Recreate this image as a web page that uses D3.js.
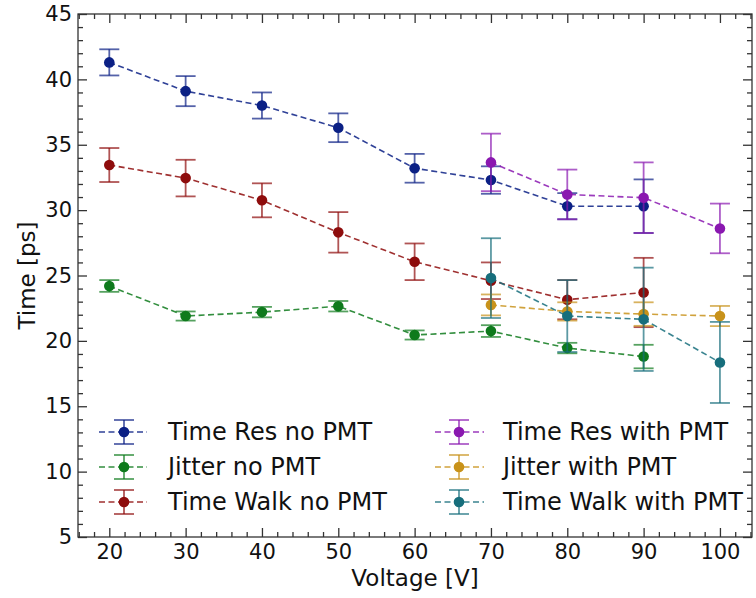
<!DOCTYPE html>
<html>
<head>
<meta charset="utf-8">
<script src="https://cdn.jsdelivr.net/npm/d3@7"></script>
<style>
  body { margin: 0; background: #fff; }
  text { font-family: "DejaVu Sans", sans-serif; fill: #111; }
</style>
</head>
<body>
<div class="canvas"></div>
<script>
// data
const voltsNoPmt = [20, 30, 40, 50, 60, 70, 80, 90];
const voltsPmt = [70, 80, 90, 100];

const resNoPmt = [41.3, 39.1, 38.0, 36.3, 33.2, 32.3, 30.3, 30.3];
const resNoPmtErr = [1.0, 1.15, 1.0, 1.1, 1.1, 1.05, 1.0, 2.05];
const jitNoPmt = [24.2, 21.9, 22.2, 22.65, 20.45, 20.75, 19.45, 18.8];
const jitNoPmtErr = [0.45, 0.35, 0.4, 0.4, 0.35, 0.45, 0.4, 0.9];
const walkNoPmt = [33.45, 32.45, 30.75, 28.3, 26.05, 24.6, 23.15, 23.7];
const walkNoPmtErr = [1.3, 1.4, 1.3, 1.55, 1.4, 1.4, 1.5, 2.65];

const resPmt = [33.65, 31.2, 30.95, 28.6];
const resPmtErr = [2.2, 1.9, 2.7, 1.9];
const jitPmt = [22.75, 22.25, 22.05, 21.9];
const jitPmtErr = [0.8, 0.7, 0.9, 0.77];
const walkPmt = [24.8, 21.9, 21.65, 18.35];
const walkPmtErr = [3.05, 2.75, 3.95, 3.1];

const xTicks = [20, 30, 40, 50, 60, 70, 80, 90, 100];
const yTicks = [5, 10, 15, 20, 25, 30, 35, 40, 45];

const series = [
  {name: 'Time Res no PMT', x: voltsNoPmt, y: resNoPmt, e: resNoPmtErr, color: '#0b2085', col: 0, row: 0},
  {name: 'Jitter no PMT', x: voltsNoPmt, y: jitNoPmt, e: jitNoPmtErr, color: '#0e7a1c', col: 0, row: 1},
  {name: 'Time Walk no PMT', x: voltsNoPmt, y: walkNoPmt, e: walkNoPmtErr, color: '#8e0c0c', col: 0, row: 2},
  {name: 'Time Res with PMT', x: voltsPmt, y: resPmt, e: resPmtErr, color: '#8a18b0', col: 1, row: 0},
  {name: 'Jitter with PMT', x: voltsPmt, y: jitPmt, e: jitPmtErr, color: '#c8921a', col: 1, row: 1},
  {name: 'Time Walk with PMT', x: voltsPmt, y: walkPmt, e: walkPmtErr, color: '#176e7c', col: 1, row: 2}
];

//1. dimensions
const margin = {top: 14, right: 4, bottom: 61, left: 78};
const width = 756, height = 598;
const graphWidth = width - margin.left - margin.right;
const graphHeight = height - margin.top - margin.bottom;

const svg = d3.select('.canvas').append('svg')
  .attr('width', width)
  .attr('height', height);

const graph = svg.append('g')
  .attr('transform', `translate(${margin.left},${margin.top})`);

const x = d3.scaleLinear().domain([15.9, 104.2]).range([0, graphWidth]);
const y = d3.scaleLinear().domain([5, 45]).range([graphHeight, 0]);

//2. inward ticks on all four sides
const minorX = d3.range(16, 105, 2).filter(v => v % 10 !== 0);
const minorY = d3.range(5, 46, 1).filter(v => v % 5 !== 0);

const tickCol = '#333';
const drawAxis = (axisFn, scale, vals, size, transform, labels, pad) => {
  const a = axisFn(scale).tickValues(vals).tickSizeInner(-size).tickSizeOuter(0).tickPadding(pad || 8);
  if (!labels) a.tickFormat('');
  const g = graph.append('g').attr('transform', transform).call(a);
  g.select('.domain').remove();
  g.selectAll('.tick line').attr('stroke', tickCol).attr('stroke-width', 1.3);
  g.selectAll('.tick text').style('font-size', '21px').attr('fill', '#111');
  return g;
};
drawAxis(d3.axisBottom, x, xTicks, 9, `translate(0,${graphHeight})`, true, 7);
drawAxis(d3.axisBottom, x, minorX, 5, `translate(0,${graphHeight})`, false);
drawAxis(d3.axisTop, x, xTicks, 9, 'translate(0,0)', false);
drawAxis(d3.axisTop, x, minorX, 5, 'translate(0,0)', false);
drawAxis(d3.axisLeft, y, yTicks, 9, 'translate(0,0)', true, 6);
drawAxis(d3.axisLeft, y, minorY, 5, 'translate(0,0)', false);
drawAxis(d3.axisRight, y, yTicks, 9, `translate(${graphWidth},0)`, false);
drawAxis(d3.axisRight, y, minorY, 5, `translate(${graphWidth},0)`, false);

graph.append('rect')
  .attr('width', graphWidth).attr('height', graphHeight)
  .attr('fill', 'none').attr('stroke', '#333').attr('stroke-width', 1.3);

// axis titles
svg.append('text')
  .attr('x', margin.left + graphWidth / 2).attr('y', 586)
  .attr('text-anchor', 'middle').style('font-size', '23px')
  .text('Voltage [V]');
svg.append('text')
  .attr('transform', `translate(35,${margin.top + graphHeight / 2}) rotate(-90)`)
  .attr('text-anchor', 'middle').style('font-size', '23px')
  .text('Time [ps]');

//3. series
const line = d3.line().x(d => x(d.x)).y(d => y(d.y));
const capW = 10;

series.forEach(s => {
  const pts = s.x.map((v, i) => ({x: v, y: s.y[i], e: s.e[i]}));
  const g = graph.append('g');

  g.append('path').datum(pts)
    .attr('d', line)
    .attr('fill', 'none')
    .attr('stroke', s.color)
    .attr('stroke-opacity', 0.85)
    .attr('stroke-width', 1.6)
    .attr('stroke-dasharray', '6,3.5');

  const eb = g.selectAll('.eb').data(pts).join('g')
    .attr('stroke', s.color).attr('stroke-opacity', 0.7).attr('stroke-width', 1.8);
  eb.append('line')
    .attr('x1', d => x(d.x)).attr('x2', d => x(d.x))
    .attr('y1', d => y(d.y - d.e)).attr('y2', d => y(d.y + d.e));
  eb.append('line')
    .attr('x1', d => x(d.x) - capW).attr('x2', d => x(d.x) + capW)
    .attr('y1', d => y(d.y + d.e)).attr('y2', d => y(d.y + d.e));
  eb.append('line')
    .attr('x1', d => x(d.x) - capW).attr('x2', d => x(d.x) + capW)
    .attr('y1', d => y(d.y - d.e)).attr('y2', d => y(d.y - d.e));

  g.selectAll('circle').data(pts).join('circle')
    .attr('cx', d => x(d.x)).attr('cy', d => y(d.y))
    .attr('r', 5.3)
    .attr('fill', s.color);
});

//4. legend
const legCols = [{hx0: 99, hx1: 147, mx: 124, tx: 168}, {hx0: 435, hx1: 484, mx: 459, tx: 503}];
const legRows = [432, 467, 502];

series.forEach(s => {
  const c = legCols[s.col], ry = legRows[s.row];
  const g = svg.append('g');
  g.append('line')
    .attr('x1', c.hx0).attr('x2', c.hx1).attr('y1', ry).attr('y2', ry)
    .attr('stroke', s.color).attr('stroke-opacity', 0.85).attr('stroke-width', 1.6)
    .attr('stroke-dasharray', '6,3.5');
  const eg = g.append('g').attr('stroke', s.color).attr('stroke-opacity', 0.7).attr('stroke-width', 1.8);
  eg.append('line').attr('x1', c.mx).attr('x2', c.mx).attr('y1', ry - 12).attr('y2', ry + 12);
  eg.append('line').attr('x1', c.mx - capW).attr('x2', c.mx + capW).attr('y1', ry - 12).attr('y2', ry - 12);
  eg.append('line').attr('x1', c.mx - capW).attr('x2', c.mx + capW).attr('y1', ry + 12).attr('y2', ry + 12);
  g.append('circle').attr('cx', c.mx).attr('cy', ry).attr('r', 5.3).attr('fill', s.color);
  g.append('text')
    .attr('x', c.tx).attr('y', ry).attr('dy', '0.35em')
    .style('font-size', '24px')
    .text(s.name);
});
</script>
</body>
</html>
